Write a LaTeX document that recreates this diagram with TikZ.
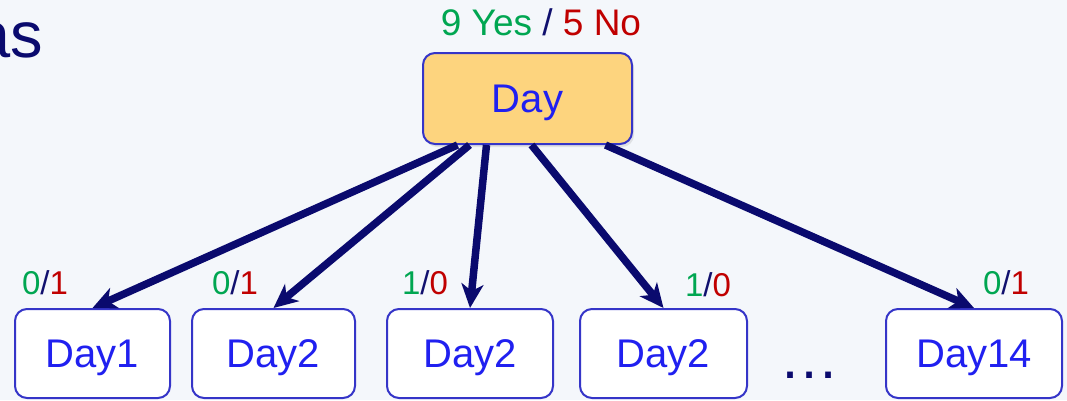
\documentclass[tikz,border=0pt]{standalone}
\usepackage{fontspec}
\setmainfont{Liberation Sans}
\usetikzlibrary{arrows.meta,shadows}

\definecolor{bg}{HTML}{F4F7FB}
\definecolor{navy}{HTML}{0A0A6E}
\definecolor{boxline}{HTML}{3535C8}
\definecolor{boxtext}{HTML}{2020F0}
\definecolor{rootfill}{HTML}{FDD47E}
\definecolor{yesgreen}{HTML}{00A651}
\definecolor{nored}{HTML}{C00000}
\definecolor{slashnavy}{HTML}{10106E}

\tikzset{
  daybox/.style={draw=boxline, line width=2pt, rounded corners=12pt,
    text=boxtext, font=\fontsize{40}{48}\selectfont,
    inner sep=0pt, text height=28.6pt, text depth=0pt, minimum height=89pt},
  rootbox/.style={daybox, fill=rootfill, minimum height=91pt,
    drop shadow={opacity=0.18, shadow xshift=2pt, shadow yshift=-3pt}},
  leafbox/.style={daybox, fill=white},
  count/.style={font=\fontsize{33}{40}\selectfont, anchor=base, inner sep=0pt},
  branch/.style={draw=navy, line width=7.5pt,
    -{Stealth[length=24pt, width=22pt, inset=7pt]}},
}

\newcommand{\yesno}[2]{\textcolor{yesgreen}{#1}\textcolor{slashnavy}{/}\textcolor{nored}{#2}}

\begin{document}
\begin{tikzpicture}[x=1pt, y=-1pt]
  \fill[bg] (0,0) rectangle (1067,400);
  \useasboundingbox (0,0) rectangle (1067,400);
  \clip (0,0) rectangle (1067,400);

  % heading fragment at the left edge
  \node[anchor=base east, inner sep=0pt, text=navy,
        font=\fontsize{65}{78}\selectfont] (head) at (43,57) {as};

  % root of the split
  \node[rootbox, minimum width=209pt] (root) at (527.5,98.5) {Day};
  \node[count, font=\fontsize{37}{44}\selectfont] (rootcount) at (541,35)
    {\textcolor{yesgreen}{9 Yes} \textcolor{slashnavy}{/} \textcolor{nored}{5 No}};

  % one child per value of the attribute
  \node[leafbox, minimum width=155pt] (c1) at (92.5,353.5) {Day1};
  \node[leafbox, minimum width=163pt] (c2) at (273.5,353.5) {Day2};
  \node[leafbox, minimum width=166pt] (c3) at (470,353.5) {Day2};
  \node[leafbox, minimum width=167pt] (c4) at (663.5,353.5) {Day2};
  \node[leafbox, minimum width=176pt] (c14) at (974,353.5) {Day14};

  \node[inner sep=0pt, text=navy, font=\fontsize{60}{72}\selectfont,
        anchor=base] (dots) at (809,378) {…};

  % class counts above each child
  \node[count] (n1) at (45,294) {\yesno{0}{1}};
  \node[count] (n2) at (235,294) {\yesno{0}{1}};
  \node[count] (n3) at (425,294) {\yesno{1}{0}};
  \node[count] (n4) at (708,296) {\yesno{1}{0}};
  \node[count] (n14) at (1006,294) {\yesno{0}{1}};

  % branches from the root to each child
  \draw[branch] ([xshift=-70pt]root.south) -- (c1.north);
  \draw[branch] ([xshift=-58pt]root.south) -- (c2.north);
  \draw[branch] ([xshift=-41pt]root.south) -- (c3.north);
  \draw[branch] ([xshift=4pt]root.south) -- (c4.north);
  \draw[branch] ([xshift=78pt]root.south) -- (c14.north);
\end{tikzpicture}
\end{document}
